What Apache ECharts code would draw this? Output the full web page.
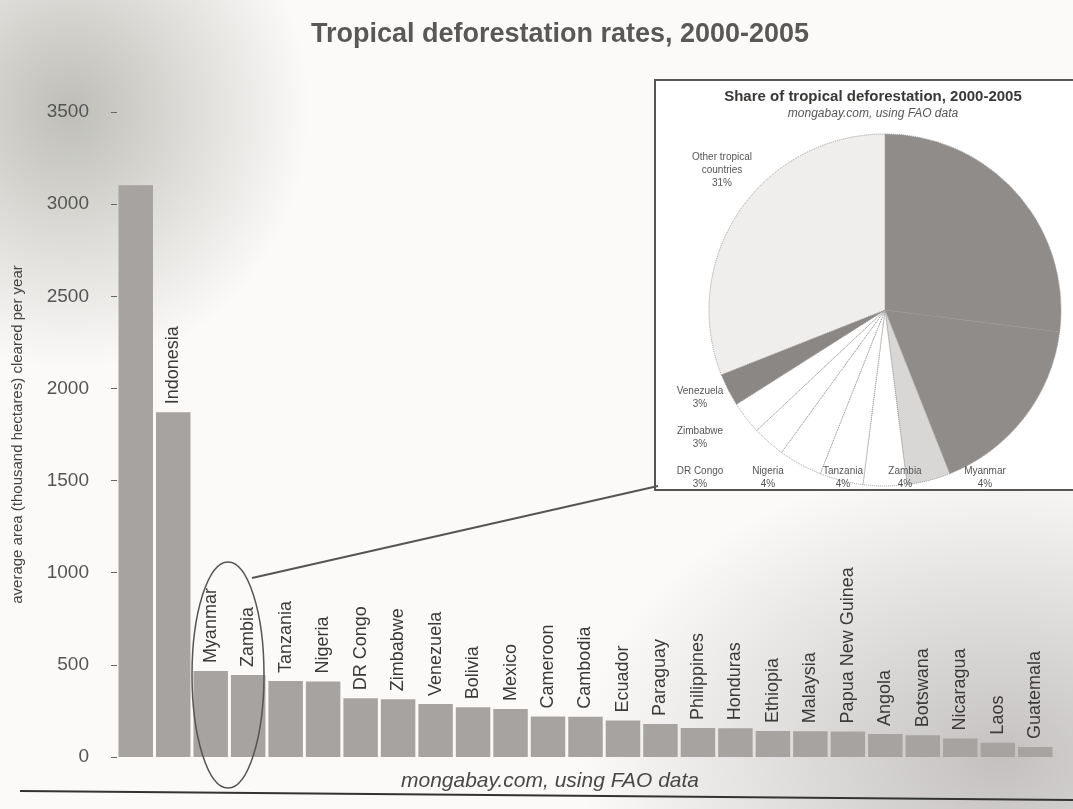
<!DOCTYPE html>
<html>
<head>
<meta charset="utf-8">
<script src="https://cdn.jsdelivr.net/npm/echarts@6/dist/echarts.min.js"></script>
<style>
  html, body { margin: 0; padding: 0; }
  body {
    background:
      radial-gradient(ellipse 240px 260px at 70px 110px, rgba(150,150,140,0.6), rgba(255,255,255,0) 100%),
      radial-gradient(ellipse 420px 300px at 1000px 760px, rgba(150,145,145,0.55), rgba(255,255,255,0) 100%),
      #fbfaf9;
  }
  #chart { width: 1073px; height: 809px; }
</style>
</head>
<body>
<div id="chart"></div>
<script>
// bar chart data: thousand hectares cleared per year
const countries = ['Brazil', 'Indonesia', 'Myanmar', 'Zambia', 'Tanzania', 'Nigeria', 'DR Congo', 'Zimbabwe',
  'Venezuela', 'Bolivia', 'Mexico', 'Cameroon', 'Cambodia', 'Ecuador', 'Paraguay', 'Philippines', 'Honduras',
  'Ethiopia', 'Malaysia', 'Papua New Guinea', 'Angola', 'Botswana', 'Nicaragua', 'Laos', 'Guatemala']
const areas = [3103, 1871, 466, 445, 412, 410, 319, 313, 288, 270, 260, 220, 219, 198, 179, 157, 156,
  141, 140, 139, 125, 118, 100, 78, 54]
const yTicks = [0, 500, 1000, 1500, 2000, 2500, 3000, 3500]

// inset pie: share of tropical deforestation (%)
const shareNames = ['Brazil', 'Indonesia', 'Myanmar', 'Zambia', 'Tanzania', 'Nigeria', 'DR Congo',
  'Zimbabwe', 'Venezuela', 'Other tropical\ncountries']
const shareValues = [27, 17, 4, 4, 4, 4, 3, 3, 3, 31]
const shareColors = ['#8f8c89', '#8f8c89', '#d9d7d5', '#ffffff', '#ffffff', '#ffffff', '#ffffff',
  '#ffffff', '#8a8784', '#efeeed']
// where each pie label sits
const shareLabelPos = [[1008, 160], [1046, 436], [985, 478], [905, 478], [843, 478], [768, 478],
  [700, 478], [700, 438], [700, 398], [722, 170]]

const chart = echarts.init(document.getElementById('chart'))
const option = {
  animation: false,
  textStyle: { fontFamily: 'Liberation Sans' },
  title: [
    {
      text: 'Tropical deforestation rates, 2000-2005',
      left: 555, top: 16, textAlign: 'center',
      textStyle: { fontSize: 27, fontWeight: 'bold', color: '#5a5856' }
    },
    {
      text: 'mongabay.com, using FAO data',
      left: 545, top: 766, textAlign: 'center',
      textStyle: { fontSize: 21, fontStyle: 'italic', fontWeight: 'normal', color: '#4a4846' }
    },
    {
      text: 'Share of tropical deforestation, 2000-2005',
      subtext: 'mongabay.com, using FAO data',
      left: 868, top: 84, textAlign: 'center', itemGap: 4,
      textStyle: { fontSize: 15, fontWeight: 'bold', color: '#3a3836' },
      subtextStyle: { fontSize: 12, fontStyle: 'italic', color: '#555' }
    }
  ],
  grid: { left: 117, right: 19, top: 112, bottom: 52 },
  xAxis: {
    type: 'category',
    data: countries,
    axisLine: { show: false },
    axisTick: { show: false },
    axisLabel: { show: false }
  },
  yAxis: {
    type: 'value',
    min: 0, max: yTicks[yTicks.length - 1], interval: yTicks[1] - yTicks[0],
    name: 'average area (thousand hectares) cleared per year',
    nameLocation: 'middle', nameGap: 92,
    nameTextStyle: { fontSize: 15, color: '#444' },
    splitLine: { show: false },
    axisLine: { show: false },
    axisTick: { show: true, length: 6, lineStyle: { color: '#666' } },
    axisLabel: { fontSize: 19, color: '#555', margin: 28, formatter: (v) => String(v) }
  },
  series: [
    {
      type: 'bar',
      barCategoryGap: '8%',
      data: areas.map((v, i) => ({
        value: v,
        label: { show: i !== 0 }
      })),
      itemStyle: { color: '#a6a3a0' },
      label: {
        show: true,
        position: 'top',
        rotate: 90,
        align: 'left',
        verticalAlign: 'middle',
        distance: 8,
        fontSize: 18,
        color: '#3c3a38',
        formatter: (p) => p.name
      }
    },
    {
      type: 'pie',
      center: [885, 310],
      radius: 176,
      startAngle: 90,
      clockwise: true,
      z: 5,
      data: shareNames.map((n, i) => ({
        name: n,
        value: shareValues[i],
        itemStyle: { color: shareColors[i] }
      })),
      itemStyle: { borderColor: '#9a9896', borderWidth: 1, borderType: 'dotted' },
      label: {
        show: true,
        fontSize: 10,
        lineHeight: 13,
        color: '#555',
        align: 'center',
        formatter: (p) => p.name + '\n' + p.value + '%'
      },
      labelLine: { show: false },
      labelLayout: (p) => ({
        x: shareLabelPos[p.dataIndex][0],
        y: shareLabelPos[p.dataIndex][1],
        align: 'center',
        verticalAlign: 'middle'
      })
    }
  ],
  graphic: [
    {
      // inset box
      type: 'rect', z: 1,
      shape: { x: 655, y: 80, width: 430, height: 410 },
      style: { fill: '#ffffff', stroke: '#555', lineWidth: 2 }
    },
    {
      // circle around Myanmar and Zambia
      type: 'ellipse', z: 3,
      shape: { cx: 228, cy: 675, rx: 36, ry: 113 },
      style: { fill: 'none', stroke: '#555', lineWidth: 1.5 }
    },
    {
      type: 'line', z: 3,
      shape: { x1: 252, y1: 578, x2: 658, y2: 486 },
      style: { stroke: '#555', lineWidth: 2 }
    },
    {
      // rule under the chart
      type: 'line', z: 3,
      shape: { x1: 20, y1: 791, x2: 1073, y2: 800 },
      style: { stroke: '#333', lineWidth: 2 }
    }
  ]
}
chart.setOption(option)
</script>
</body>
</html>
